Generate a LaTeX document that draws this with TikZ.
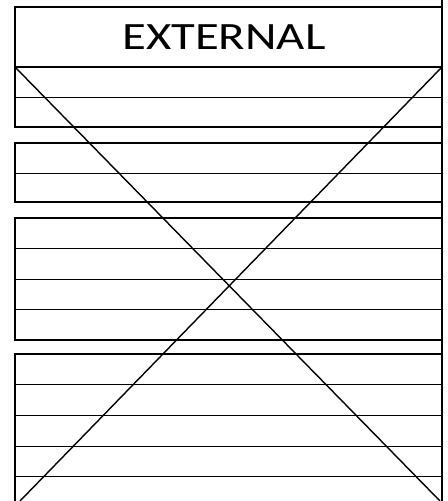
\documentclass[tikz,border=0pt]{standalone}
\usepackage{fontspec}
\setmainfont{Carlito}
\begin{document}
\begin{tikzpicture}[x=0.02cm,y=-0.02cm,
  frame/.style={line width=1.1pt},
  row/.style={line width=0.55pt},
  cross/.style={line width=0.8pt}]
\useasboundingbox (0,0) rectangle (448,501);
\clip (0,0) rectangle (448,501);
\draw[frame](15,7)rectangle(442,67);%header
\node (title) at (224,37.5) {\fontsize{22}{26}\selectfont\scalebox{1.26}[1]{EXTERNAL}};
\draw[frame](442,0)--(442,501);%right edge
\draw[frame](15,67)rectangle(442,127);%group 1
\draw[row](15,97)--(442,97);
\draw[frame](15,143)rectangle(442,202);%group 2
\draw[row](15,173)--(442,173);
\draw[frame](15,218)rectangle(442,340);%group 3
\foreach \y in {248,279,309} \draw[row](15,\y)--(442,\y);
\draw[frame](15,501)--(15,354)--(442,354);%group 4
\foreach \y in {384,415,446,476} \draw[row](15,\y)--(442,\y);
\draw[cross](15,67)--(440,501);%diagonals
\draw[cross](442,67)--(20,501);
\end{tikzpicture}
\end{document}
